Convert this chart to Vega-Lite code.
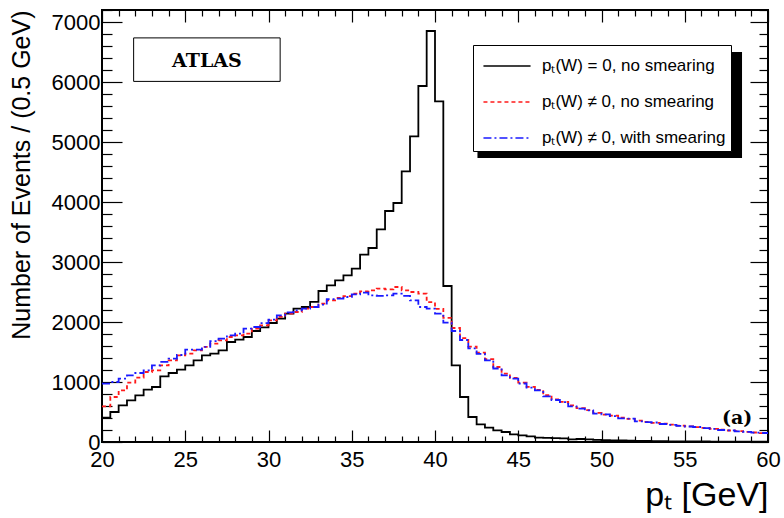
{
  "$schema": "https://vega.github.io/schema/vega-lite/v6.json",
  "width": 666,
  "height": 432,
  "autosize": "none",
  "padding": {"left": 102, "top": 10, "right": 16, "bottom": 76},
  "background": "white",
  "config": {
    "view": {"stroke": "black", "strokeWidth": 2},
    "font": "Liberation Sans"
  },
  "datasets": {
    "hist": [
      {"pt": 20, "a": 406, "b": 595, "c": 973},
      {"pt": 20.5, "a": 500, "b": 750, "c": 1000},
      {"pt": 21, "a": 611, "b": 861, "c": 1056},
      {"pt": 21.5, "a": 695, "b": 990, "c": 1112},
      {"pt": 22, "a": 778, "b": 1073, "c": 1150},
      {"pt": 22.5, "a": 872, "b": 1167, "c": 1195},
      {"pt": 23, "a": 917, "b": 1195, "c": 1278},
      {"pt": 23.5, "a": 1095, "b": 1278, "c": 1334},
      {"pt": 24, "a": 1150, "b": 1362, "c": 1390},
      {"pt": 24.5, "a": 1206, "b": 1445, "c": 1450},
      {"pt": 25, "a": 1278, "b": 1473, "c": 1540},
      {"pt": 25.5, "a": 1362, "b": 1528, "c": 1540},
      {"pt": 26, "a": 1445, "b": 1584, "c": 1584},
      {"pt": 26.5, "a": 1473, "b": 1640, "c": 1680},
      {"pt": 27, "a": 1528, "b": 1695, "c": 1723},
      {"pt": 27.5, "a": 1667, "b": 1750, "c": 1778},
      {"pt": 28, "a": 1706, "b": 1778, "c": 1806},
      {"pt": 28.5, "a": 1750, "b": 1806, "c": 1890},
      {"pt": 29, "a": 1850, "b": 1890, "c": 1917},
      {"pt": 29.5, "a": 1910, "b": 1945, "c": 1980},
      {"pt": 30, "a": 1983, "b": 2028, "c": 2040},
      {"pt": 30.5, "a": 2056, "b": 2084, "c": 2110},
      {"pt": 31, "a": 2139, "b": 2140, "c": 2160},
      {"pt": 31.5, "a": 2223, "b": 2167, "c": 2195},
      {"pt": 32, "a": 2250, "b": 2223, "c": 2223},
      {"pt": 32.5, "a": 2334, "b": 2250, "c": 2250},
      {"pt": 33, "a": 2517, "b": 2306, "c": 2290},
      {"pt": 33.5, "a": 2611, "b": 2360, "c": 2380},
      {"pt": 34, "a": 2695, "b": 2400, "c": 2390},
      {"pt": 34.5, "a": 2778, "b": 2430, "c": 2417},
      {"pt": 35, "a": 2890, "b": 2472, "c": 2460},
      {"pt": 35.5, "a": 3123, "b": 2510, "c": 2490},
      {"pt": 36, "a": 3233, "b": 2528, "c": 2445},
      {"pt": 36.5, "a": 3545, "b": 2556, "c": 2435},
      {"pt": 37, "a": 3850, "b": 2545, "c": 2445},
      {"pt": 37.5, "a": 3983, "b": 2583, "c": 2472},
      {"pt": 38, "a": 4512, "b": 2528, "c": 2435},
      {"pt": 38.5, "a": 5095, "b": 2500, "c": 2360},
      {"pt": 39, "a": 5933, "b": 2472, "c": 2250},
      {"pt": 39.5, "a": 6850, "b": 2330, "c": 2223},
      {"pt": 40, "a": 5678, "b": 2220, "c": 2140},
      {"pt": 40.5, "a": 2600, "b": 2070, "c": 1990},
      {"pt": 41, "a": 1278, "b": 1900, "c": 1850},
      {"pt": 41.5, "a": 750, "b": 1730, "c": 1700},
      {"pt": 42, "a": 417, "b": 1590, "c": 1560},
      {"pt": 42.5, "a": 295, "b": 1490, "c": 1470},
      {"pt": 43, "a": 240, "b": 1380, "c": 1360},
      {"pt": 43.5, "a": 195, "b": 1250, "c": 1225},
      {"pt": 44, "a": 167, "b": 1140, "c": 1110},
      {"pt": 44.5, "a": 128, "b": 1070, "c": 1056},
      {"pt": 45, "a": 112, "b": 990, "c": 975},
      {"pt": 45.5, "a": 95, "b": 920, "c": 905},
      {"pt": 46, "a": 73, "b": 870, "c": 860},
      {"pt": 46.5, "a": 70, "b": 780, "c": 760},
      {"pt": 47, "a": 65, "b": 710, "c": 700},
      {"pt": 47.5, "a": 60, "b": 670, "c": 665},
      {"pt": 48, "a": 45, "b": 610, "c": 595},
      {"pt": 48.5, "a": 50, "b": 565, "c": 556},
      {"pt": 49, "a": 45, "b": 530, "c": 528},
      {"pt": 49.5, "a": 35, "b": 485, "c": 473},
      {"pt": 50, "a": 30, "b": 455, "c": 460},
      {"pt": 50.5, "a": 28, "b": 440, "c": 430},
      {"pt": 51, "a": 25, "b": 405, "c": 395},
      {"pt": 51.5, "a": 22, "b": 385, "c": 390},
      {"pt": 52, "a": 20, "b": 355, "c": 345},
      {"pt": 52.5, "a": 18, "b": 335, "c": 330},
      {"pt": 53, "a": 16, "b": 320, "c": 325},
      {"pt": 53.5, "a": 14, "b": 305, "c": 300},
      {"pt": 54, "a": 12, "b": 290, "c": 285},
      {"pt": 54.5, "a": 11, "b": 272, "c": 268},
      {"pt": 55, "a": 10, "b": 262, "c": 258},
      {"pt": 55.5, "a": 9, "b": 248, "c": 250},
      {"pt": 56, "a": 8, "b": 235, "c": 230},
      {"pt": 56.5, "a": 7, "b": 218, "c": 220},
      {"pt": 57, "a": 6, "b": 205, "c": 200},
      {"pt": 57.5, "a": 6, "b": 192, "c": 195},
      {"pt": 58, "a": 5, "b": 182, "c": 178},
      {"pt": 58.5, "a": 5, "b": 168, "c": 170},
      {"pt": 59, "a": 4, "b": 158, "c": 155},
      {"pt": 59.5, "a": 4, "b": 148, "c": 150},
      {"pt": 60, "a": 4, "b": 148, "c": 150}
    ]
  },
  "resolve": {"axis": {"x": "independent", "y": "independent"}},
  "layer": [
    {
      "data": {"values": [{}]},
      "mark": {"type": "rect", "fill": "black"},
      "encoding": {
        "x": {"datum": 42.55, "type": "quantitative",
          "scale": {"domain": [20, 60], "nice": false, "zero": false},
          "axis": {"orient": "top", "values": [20,21,22,23,24,25,26,27,28,29,30,31,32,33,34,35,36,37,38,39,40,41,42,43,44,45,46,47,48,49,50,51,52,53,54,55,56,57,58,59,60],
            "labels": false, "title": null, "domain": false, "grid": false,
            "tickColor": "black", "tickWidth": 1.2,
            "tickSize": {"condition": {"test": "datum.value % 5 === 0", "value": -12}, "value": -6}}},
        "x2": {"datum": 58.44},
        "y": {"datum": 6500, "type": "quantitative",
          "scale": {"domain": [0, 7200], "nice": false, "zero": true},
          "axis": {"orient": "right", "values": [0,200,400,600,800,1000,1200,1400,1600,1800,2000,2200,2400,2600,2800,3000,3200,3400,3600,3800,4000,4200,4400,4600,4800,5000,5200,5400,5600,5800,6000,6200,6400,6600,6800,7000,7200],
            "labels": false, "title": null, "domain": false, "grid": false,
            "tickColor": "black", "tickWidth": 1.2,
            "tickSize": {"condition": {"test": "datum.value % 1000 === 0", "value": -18}, "value": -9}}},
        "y2": {"datum": 4733}
      }
    },
    {
      "data": {"values": [{}]},
      "mark": {"type": "rect", "fill": "white", "stroke": "black", "strokeWidth": 1},
      "encoding": {
        "x": {"datum": 21.9, "type": "quantitative", "scale": {"domain": [20, 60], "nice": false, "zero": false}, "axis": null},
        "x2": {"datum": 30.7},
        "y": {"datum": 6735, "type": "quantitative", "scale": {"domain": [0, 7200], "nice": false, "zero": true}, "axis": null},
        "y2": {"datum": 6010}
      }
    },
    {
      "data": {"values": [{"t": "ATLAS"}]},
      "mark": {"type": "text", "font": "DejaVu Serif", "fontWeight": "bold", "fontSize": 19, "align": "center", "baseline": "middle", "color": "black"},
      "encoding": {
        "x": {"datum": 26.3, "type": "quantitative", "scale": {"domain": [20, 60], "nice": false, "zero": false}, "axis": null},
        "y": {"datum": 6350, "type": "quantitative", "scale": {"domain": [0, 7200], "nice": false, "zero": true}, "axis": null},
        "text": {"field": "t"}
      }
    },
    {
      "data": {"values": [{"t": "(a)"}]},
      "mark": {"type": "text", "font": "DejaVu Serif", "fontWeight": "bold", "fontSize": 19, "align": "center", "baseline": "middle", "color": "black"},
      "encoding": {
        "x": {"datum": 58.15, "type": "quantitative", "scale": {"domain": [20, 60], "nice": false, "zero": false}, "axis": null},
        "y": {"datum": 400, "type": "quantitative", "scale": {"domain": [0, 7200], "nice": false, "zero": true}, "axis": null},
        "text": {"field": "t"}
      }
    },
    {
      "data": {"name": "hist"},
      "transform": [{"fold": ["a", "b", "c"], "as": ["k", "v"]}],
      "mark": {"type": "line", "interpolate": "step-after", "strokeWidth": 1.8},
      "encoding": {
        "x": {"field": "pt", "type": "quantitative",
          "scale": {"domain": [20, 60], "nice": false, "zero": false},
          "axis": {"orient": "bottom", "values": [20,21,22,23,24,25,26,27,28,29,30,31,32,33,34,35,36,37,38,39,40,41,42,43,44,45,46,47,48,49,50,51,52,53,54,55,56,57,58,59,60],
            "labelExpr": "datum.value % 5 === 0 ? datum.label : ''",
            "labelOverlap": false, "labelFlush": false,
            "labelFont": "Liberation Sans", "labelFontSize": 22, "labelColor": "black",
            "labelPadding": 19,
            "domain": false, "grid": false, "tickColor": "black", "tickWidth": 1.2,
            "tickSize": {"condition": {"test": "datum.value % 5 === 0", "value": -12}, "value": -6},
            "title": "pₜ [GeV]", "titleAnchor": "end", "titleFont": "Liberation Sans", "titleFontSize": 34, "titleFontWeight": "normal", "titleColor": "black", "titlePadding": 2}},
        "y": {"field": "v", "type": "quantitative",
          "scale": {"domain": [0, 7200], "nice": false, "zero": true},
          "axis": {"orient": "left", "values": [0,200,400,600,800,1000,1200,1400,1600,1800,2000,2200,2400,2600,2800,3000,3200,3400,3600,3800,4000,4200,4400,4600,4800,5000,5200,5400,5600,5800,6000,6200,6400,6600,6800,7000,7200],
            "labelExpr": "datum.value % 1000 === 0 ? datum.label : ''",
            "format": "d",
            "labelOverlap": false, "labelFlush": false,
            "labelFont": "Liberation Sans", "labelFontSize": 22, "labelColor": "black",
            "labelPadding": 22,
            "domain": false, "grid": false, "tickColor": "black", "tickWidth": 1.2,
            "tickSize": {"condition": {"test": "datum.value % 1000 === 0", "value": -20}, "value": -10},
            "title": "Number of Events / (0.5 GeV)", "titleAnchor": "end", "titleFont": "Liberation Sans", "titleFontSize": 25, "titleFontWeight": "normal", "titleColor": "black", "titlePadding": 17}},
        "color": {"field": "k", "type": "nominal",
          "scale": {"domain": ["a", "b", "c"], "range": ["black", "#ff1a1a", "#1a1aff"]},
          "legend": {"orient": "none", "legendX": 371, "legendY": 35, "title": null,
            "labelExpr": "datum.label == 'a' ? 'pₜ(W) = 0, no smearing' : datum.label == 'b' ? 'pₜ(W) ≠ 0, no smearing' : 'pₜ(W) ≠ 0, with smearing'",
            "fillColor": "white", "strokeColor": "black", "padding": 5,
            "symbolType": "M-1.57,0H1.57", "symbolSize": 900, "symbolStrokeWidth": 1.5, "symbolOffset": 13,
            "rowPadding": 12, "labelOffset": 19, "labelLimit": 400, "labelFont": "Liberation Sans", "labelFontSize": 17, "labelColor": "black"}},
        "strokeDash": {"field": "k", "type": "nominal",
          "scale": {"domain": ["a", "b", "c"], "range": [[1, 0], [4, 3], [8, 3, 2, 3]]},
          "legend": {"orient": "none", "legendX": 371, "legendY": 35, "title": null,
            "labelExpr": "datum.label == 'a' ? 'pₜ(W) = 0, no smearing' : datum.label == 'b' ? 'pₜ(W) ≠ 0, no smearing' : 'pₜ(W) ≠ 0, with smearing'",
            "fillColor": "white", "strokeColor": "black", "padding": 5,
            "symbolType": "M-1.57,0H1.57", "symbolSize": 900, "symbolStrokeWidth": 1.5, "symbolOffset": 13,
            "rowPadding": 12, "labelOffset": 19, "labelLimit": 400, "labelFont": "Liberation Sans", "labelFontSize": 17, "labelColor": "black"}}
      }
    }
  ]
}
